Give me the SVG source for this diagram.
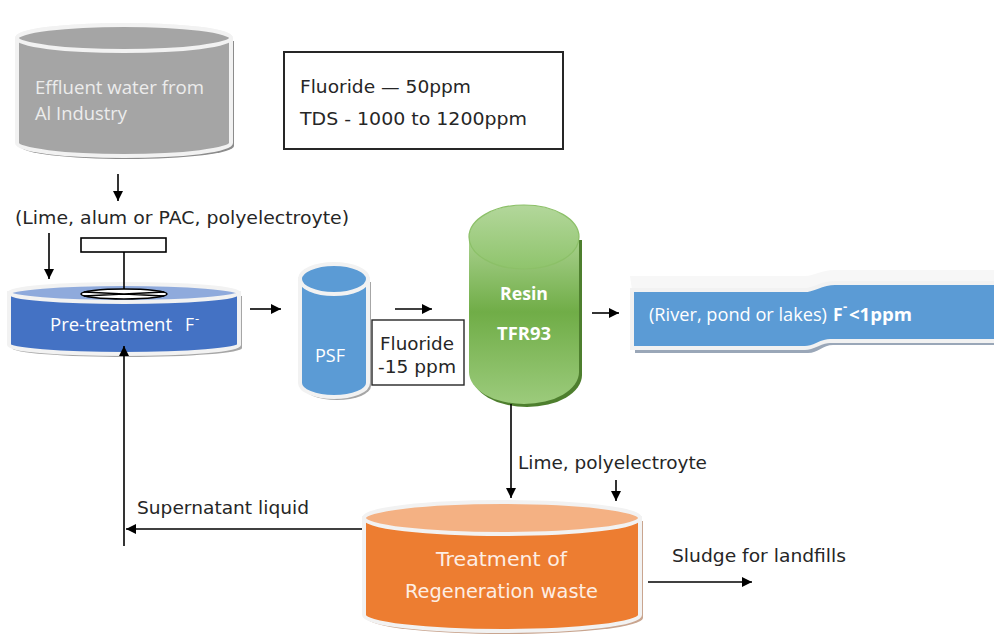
<svg xmlns="http://www.w3.org/2000/svg" width="994" height="635" viewBox="0 0 994 635">
<defs>
<style>
.lbl{font-family:"DejaVu Sans",Verdana,sans-serif;font-size:17px;fill:#262626}
.in{font-family:"Open Sans","Liberation Sans",sans-serif;font-size:17.5px;fill:#ffffff}
.sup{font-family:"Open Sans","Liberation Sans",sans-serif;font-size:13px;fill:#ffffff;font-weight:bold}
.ln{stroke:#000;stroke-width:1.6;fill:none}
.rim{stroke:#f2f2f2;stroke-width:4}
</style>
<marker id="ah" viewBox="0 0 10 10" refX="10" refY="5" markerWidth="10" markerHeight="10" markerUnits="userSpaceOnUse" orient="auto">
<path d="M0,0 L10,5 L0,10 Z" fill="#000"/>
</marker>
<linearGradient id="gGreen" x1="0" y1="0" x2="0" y2="1">
<stop offset="0" stop-color="#a9d18e"/>
<stop offset="0.45" stop-color="#70ad47"/>
<stop offset="1" stop-color="#9ccb7c"/>
</linearGradient>
<linearGradient id="gGreenTop" x1="0" y1="0" x2="0" y2="1">
<stop offset="0" stop-color="#b3d79b"/>
<stop offset="1" stop-color="#8fc46c"/>
</linearGradient>
</defs>

<g id="effluent">
<path d="M20,41 L20,146 A107,13 0 0 0 234,146 L234,41 Z" fill="#8c8c8c"/>
<path d="M17,38 L17,143 A107,13 0 0 0 231,143 L231,38 A107,13 0 0 0 17,38 Z" fill="#a5a5a5" class="rim"/>
<ellipse cx="124" cy="38" rx="107" ry="13" fill="#a5a5a5" class="rim"/>
<text class="in" x="35" y="94" textLength="169" lengthAdjust="spacingAndGlyphs" style="fill:#ececec">Effluent water from</text>
<text class="in" x="35" y="120" textLength="92" lengthAdjust="spacingAndGlyphs" style="fill:#ececec">Al Industry</text>
</g>

<g id="info-box">
<rect x="284" y="52" width="279" height="97" fill="#fff" stroke="#262626" stroke-width="2"/>
<text class="lbl" x="300" y="93" textLength="171" lengthAdjust="spacingAndGlyphs">Fluoride — 50ppm</text>
<text class="lbl" x="300" y="125" textLength="227" lengthAdjust="spacingAndGlyphs">TDS - 1000 to 1200ppm</text>
</g>

<g id="chemicals">
<text class="lbl" x="15" y="224" textLength="334" lengthAdjust="spacingAndGlyphs">(Lime, alum or PAC, polyelectroyte)</text>
</g>

<g id="pretreatment">
<path d="M12,296 L12,348 A115,9 0 0 0 242,348 L242,296 Z" fill="#a6a6a6"/>
<path d="M9,293 L9,345 A115,9 0 0 0 239,345 L239,293 Z" fill="#4472c4" class="rim"/>
<ellipse cx="124" cy="293" rx="115" ry="9" fill="#8faadc" class="rim"/>
<rect x="81" y="238" width="85" height="14" fill="#fff" stroke="#000" stroke-width="1.6"/>
<line x1="124" y1="252" x2="124" y2="297" class="ln"/>
<ellipse cx="124" cy="294" rx="43" ry="5" fill="#fff" stroke="#000" stroke-width="1.6"/>
<path d="M84,292 L164,296 M84,296 L164,292" class="ln" stroke-width="1"/>
<text class="in" x="50" y="331" textLength="122" lengthAdjust="spacingAndGlyphs">Pre-treatment</text>
<text class="in" x="185" y="331">F</text>
<text class="sup" x="195" y="323" style="font-weight:normal">-</text>
</g>

<g id="psf">
<path d="M303,282 L303,386 A34,14 0 0 0 371,386 L371,282 Z" fill="#a6a6a6"/>
<path d="M300,279 L300,383 A34,14 0 0 0 368,383 L368,279 Z" fill="#5b9bd5" class="rim"/>
<ellipse cx="334" cy="279" rx="34" ry="15" fill="#5b9bd5" class="rim"/>
<text class="in" x="315" y="362" textLength="30" lengthAdjust="spacingAndGlyphs">PSF</text>
</g>

<g id="fluoride-box">
<rect x="372" y="320" width="92" height="65" fill="#fff" stroke="#262626" stroke-width="1.4"/>
<text class="lbl" x="380" y="350" textLength="74" lengthAdjust="spacingAndGlyphs">Fluoride</text>
<text class="lbl" x="378" y="373" textLength="78" lengthAdjust="spacingAndGlyphs">-15 ppm</text>
</g>

<g id="resin">
<path d="M472,240 L472,375 A55,32 0 0 0 582,375 L582,240 Z" fill="#4e7f2e"/>
<path d="M469,237 L469,372 A55,32 0 0 0 579,372 L579,237 Z" fill="url(#gGreen)"/>
<ellipse cx="524" cy="237" rx="55" ry="32" fill="url(#gGreenTop)" stroke="#8cc068" stroke-width="1.2"/>
<text class="in" x="500" y="300" font-weight="bold" textLength="48" lengthAdjust="spacingAndGlyphs">Resin</text>
<text class="in" x="497" y="340" font-weight="bold" textLength="54" lengthAdjust="spacingAndGlyphs">TFR93</text>
</g>

<g id="river">
<path d="M635,294 L808,294 C818,294 823,287 838,287 L997,287 L997,345 L833,345 C823,345 818,353 808,353 L635,353 Z" fill="#9aa7b8"/>
<path d="M630,276 L805,276 C815,276 820,270 835,270 L996,270 L996,290 L632,290 Z" fill="#f7f7f7"/>
<path d="M632,290 L805,290 C815,290 820,283 835,283 L996,283 L996,341 L830,341 C820,341 815,348 805,348 L632,348 Z" fill="#5b9bd5" class="rim"/>
<text class="in" x="649" y="321" textLength="178" lengthAdjust="spacingAndGlyphs">(River, pond or lakes)</text>
<text class="in" x="833" y="321" font-weight="bold">F</text>
<text class="sup" x="843" y="311">-</text>
<text class="in" x="849" y="321" font-weight="bold" textLength="63" lengthAdjust="spacingAndGlyphs">&lt;1ppm</text>
</g>

<g id="treatment">
<path d="M367,521 L367,618 A138,16 0 0 0 643,618 L643,521 Z" fill="#c9a58f"/>
<path d="M364,518 L364,615 A138,16 0 0 0 640,615 L640,518 Z" fill="#ed7d31" class="rim"/>
<ellipse cx="502" cy="518" rx="138" ry="16" fill="#f4b183" class="rim"/>
<text x="436" y="566" textLength="131" lengthAdjust="spacingAndGlyphs" style="font-family:'DejaVu Sans',sans-serif;font-size:19px;fill:#fdeee4">Treatment of</text>
<text x="405" y="598" textLength="193" lengthAdjust="spacingAndGlyphs" style="font-family:'DejaVu Sans',sans-serif;font-size:19px;fill:#fdeee4">Regeneration waste</text>
</g>

<g id="labels">
<text class="lbl" x="518" y="469" textLength="189" lengthAdjust="spacingAndGlyphs">Lime, polyelectroyte</text>
<text class="lbl" x="137" y="514" textLength="172" lengthAdjust="spacingAndGlyphs">Supernatant liquid</text>
<text class="lbl" x="672" y="562" textLength="174" lengthAdjust="spacingAndGlyphs">Sludge for landfills</text>
</g>

<g id="connectors">
<line x1="118" y1="174" x2="118" y2="201" class="ln" marker-end="url(#ah)"/>
<line x1="49" y1="233" x2="49" y2="279" class="ln" marker-end="url(#ah)"/>
<line x1="250" y1="309" x2="281" y2="309" class="ln" marker-end="url(#ah)"/>
<line x1="395" y1="309" x2="432" y2="309" class="ln" marker-end="url(#ah)"/>
<line x1="592" y1="313" x2="619" y2="313" class="ln" marker-end="url(#ah)"/>
<line x1="511" y1="404" x2="511" y2="498" class="ln" marker-end="url(#ah)"/>
<line x1="616" y1="480" x2="616" y2="501" class="ln" marker-end="url(#ah)"/>
<line x1="362" y1="529" x2="126" y2="529" class="ln" marker-end="url(#ah)"/>
<line x1="124" y1="546" x2="124" y2="346" class="ln" marker-end="url(#ah)"/>
<line x1="648" y1="582" x2="752" y2="582" class="ln" marker-end="url(#ah)"/>
</g>
</svg>
